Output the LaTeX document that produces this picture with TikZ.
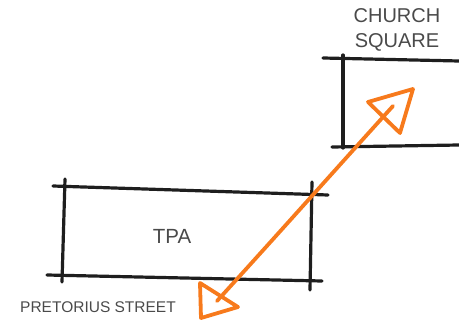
\documentclass[tikz,border=0pt]{standalone}
\usepackage{fontspec}
\setmainfont{Liberation Sans}
\definecolor{ink}{HTML}{1E1E1E}
\definecolor{txt}{HTML}{4A4A4A}
\definecolor{orng}{HTML}{F77A1C}
\begin{document}
\begin{tikzpicture}[x=1pt,y=-1pt,
  pen/.style={draw=ink,line width=3.2pt,line cap=round},
  arr/.style={draw=orng,line width=3.8pt,line cap=round,line join=round},
  lbl/.style={text=txt,inner sep=0pt,align=center}]
\useasboundingbox (0,0) rectangle (459,324);
% TPA box
\draw[pen] (53,186) -- (328,195);
\draw[pen] (47,275) -- (322,281);
\draw[pen] (65,179) -- (62,282);
\draw[pen] (312,182) -- (310,290);
% Church square box
\draw[pen] (323,58) -- (459,61);
\draw[pen] (332,147) -- (459,145);
\draw[pen] (343,55) -- (343,148);
% labels
\node[lbl,font=\fontsize{20.5}{24}\selectfont] (tpa) at (172,236) {TPA};
\node[lbl,font=\fontsize{20}{25}\selectfont] (cs) at (397,30) {CHURCH\\SQUARE};
\node[lbl,font=\fontsize{15.5}{17}\selectfont] (ps) at (98,307) {PRETORIUS STREET};
% arrow
\coordinate (a1) at (217,301);
\coordinate (a2) at (393,106);
\draw[arr] (a1) .. controls (270,243) and (335,170) .. (a2);
\draw[arr] (200,283) -- (238,307) -- (201,318) -- cycle;
\draw[arr] (368,102) -- (413,89) -- (400,133) -- cycle;
\end{tikzpicture}
\end{document}
